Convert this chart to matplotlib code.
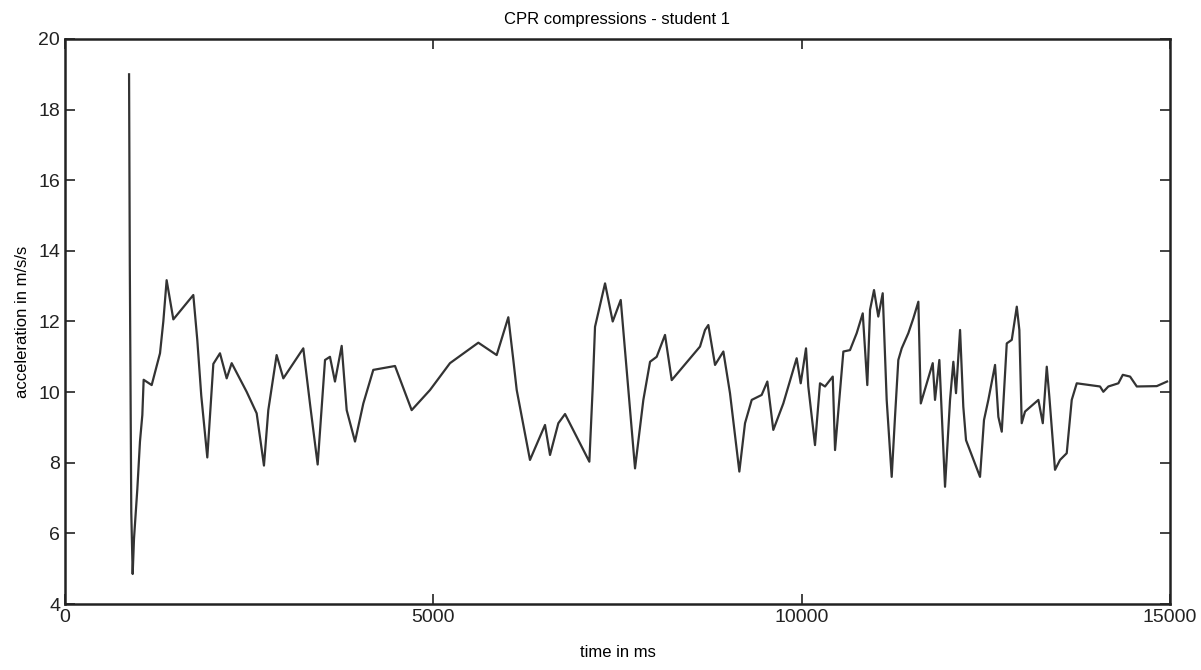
import matplotlib.pyplot as plt

plt.rcParams['font.family'] = ['Liberation Sans Narrow', 'Liberation Sans', 'DejaVu Sans']

# time in ms / acceleration in m/s/s
time_ms = [
    870, 880, 900, 919, 937, 982, 1018, 1050, 1068, 1177, 1290, 1335, 1380,
    1471, 1742, 1796, 1850, 1932, 2014, 2104, 2195, 2263, 2466, 2602, 2701,
    2760, 2873, 2964, 3235, 3330, 3430, 3530, 3597, 3665, 3756, 3824, 3937,
    4050, 4185, 4480, 4706, 4955, 5226, 5611, 5860, 6018, 6086, 6132, 6312,
    6516, 6584, 6697, 6788, 7118, 7163, 7195, 7331, 7435, 7544, 7625, 7738,
    7851, 7942, 8032, 8145, 8236, 8620, 8688, 8733, 8824, 8937, 9027, 9154,
    9231, 9322, 9457, 9534, 9615, 9751, 9932, 9987, 10059, 10090, 10181,
    10249, 10317, 10422, 10453, 10566, 10656, 10747, 10829, 10891, 10928,
    10982, 11040, 11100, 11154, 11222, 11267, 11312, 11358, 11448, 11516,
    11584, 11617, 11698, 11779, 11810, 11869, 11946, 12014, 12059, 12095,
    12150, 12194, 12231, 12421, 12475, 12534, 12625, 12670, 12716, 12784,
    12852, 12920, 12955, 12987, 13032, 13213, 13273, 13327, 13362, 13439,
    13507, 13598, 13666, 13734, 13914, 14050, 14095, 14163, 14299, 14359,
    14458, 14549, 14820, 14960,
]
accel = [
    19.0, 13.6, 6.6, 4.85, 5.85, 7.25, 8.6, 9.35, 10.35, 10.2, 11.1, 12.0, 13.17,
    12.06, 12.75, 11.48, 9.9, 8.15, 10.8, 11.1, 10.39, 10.82, 10.01, 9.4, 7.92,
    9.49, 11.05, 10.39, 11.24, 9.6, 7.95, 10.91, 11.0, 10.3, 11.31, 9.49, 8.6,
    9.68, 10.63, 10.74, 9.49, 10.06, 10.82, 11.4, 11.05, 12.12, 10.91, 10.06, 8.08,
    9.07, 8.22, 9.12, 9.38, 8.03, 10.11, 11.85, 13.08, 12.0, 12.61, 10.63, 7.84,
    9.78, 10.86, 11.0, 11.62, 10.34, 11.29, 11.76, 11.9, 10.77, 11.15, 9.97, 7.75,
    9.12, 9.78, 9.92, 10.3, 8.93, 9.68, 10.96, 10.25, 11.24, 10.16, 8.5,
    10.25, 10.16, 10.44, 8.36, 11.15, 11.19, 11.67, 12.23, 10.2, 12.33,
    12.89, 12.14, 12.8, 9.78, 7.6, 9.3, 10.91, 11.24, 11.67, 12.09,
    12.56, 9.68, 10.25, 10.82, 9.78, 10.91, 7.32, 9.78, 10.86, 9.97,
    11.76, 9.59, 8.64, 7.6, 9.21, 9.78, 10.77, 9.3, 8.88, 11.38,
    11.48, 12.42, 11.76, 9.12, 9.45, 9.78, 9.12, 10.72, 9.87, 7.8,
    8.08, 8.27, 9.78, 10.25, 10.2, 10.16, 10.01, 10.16, 10.25, 10.49,
    10.44, 10.16, 10.17, 10.3,
]

x_ticks = [0, 5000, 10000, 15000]
y_ticks = [4, 6, 8, 10, 12, 14, 16, 18, 20]

fig = plt.figure(figsize=(12.01, 6.70), dpi=100)
ax = fig.add_axes([0.0541, 0.0985, 0.9201, 0.8433])

ax.plot(time_ms, accel, color='#333333', linewidth=1.6)

ax.set_xlim(0, 15000)
ax.set_ylim(4, 20)
ax.set_xticks(x_ticks)
ax.set_yticks(y_ticks)
ax.tick_params(direction='in', top=True, right=True, length=7, width=1.2,
               labelsize=14, colors='#222222')
for s in ax.spines.values():
    s.set_linewidth(1.8)
    s.set_color('#222222')

ax.set_title('CPR compressions - student 1', fontsize=12, pad=11)
ax.set_xlabel('time in ms', fontsize=12, labelpad=14)
ax.set_ylabel('acceleration in m/s/s', fontsize=12, labelpad=6)

plt.savefig('out.png', dpi=100)
